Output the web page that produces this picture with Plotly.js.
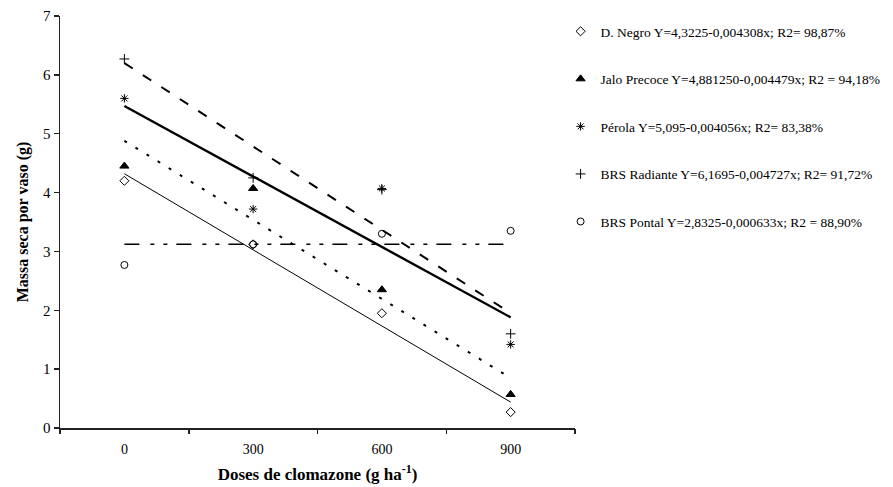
<!DOCTYPE html>
<html>
<head>
<meta charset="utf-8">
<script src="https://cdn.plot.ly/plotly-3.0.1.min.js"></script>
<style>html,body{margin:0;padding:0;background:#fff;}#chart{width:893px;height:487px;}</style>
</head>
<body>
<div id="chart"></div>
<script>
// Doses (g ha-1)
const doses = [0, 300, 600, 900];
const tickLabels = ["0", "300", "600", "900"];

// Legend names (with fitted equations)
const seriesNames = [
  "D. Negro Y=4,3225-0,004308x; R2= 98,87%",
  "Jalo Precoce Y=4,881250-0,004479x; R2 = 94,18%",
  "Pérola Y=5,095-0,004056x; R2= 83,38%",
  "BRS Radiante Y=6,1695-0,004727x; R2= 91,72%",
  "BRS Pontal Y=2,8325-0,000633x; R2 = 88,90%"
];

const dNegro      = [4.20, 3.12, 1.95, 0.27];
const jaloPrecoce = [4.45, 4.07, 2.35, 0.57];
const perola      = [5.60, 3.72, 4.07, 1.42];
const brsRadiante = [6.27, 4.25, 4.05, 1.60];
const brsPontal   = [2.77, 3.12, 3.30, 3.35];

// Fitted lines as drawn in the figure (values at dose 0 and 900)
const lineX = [0, 900];
const fitDNegro      = [4.32, 0.44];
const fitJalo        = [4.88, 0.85];
const fitPerola      = [5.47, 1.88];
const fitRadiante    = [6.20, 1.95];
const fitPontal      = [3.12, 3.12];

// Category boundary ticks
const boundaryTicks = [-150, 150, 450, 750, 1050];

const obs = [dNegro, jaloPrecoce, perola, brsRadiante, brsPontal];
const fits = [fitDNegro, fitJalo, fitPerola, fitRadiante, fitPontal];
const symbols = ["diamond-open", "triangle-up", "asterisk-open", "cross-thin-open", "circle-open"];
const lineStyles = [
  {color: "#000", width: 1, dash: "solid"},
  {color: "#000", width: 2, dash: "3px,10px"},
  {color: "#000", width: 2.4, dash: "solid"},
  {color: "#000", width: 2, dash: "10px,12px"},
  {color: "#000", width: 1.5, dash: "15px,11px,4px,9px,4px,9px"}
];

const traces = [];
for (let i = 0; i < obs.length; i++) {
  traces.push({
    x: lineX, y: fits[i], mode: "lines", type: "scatter",
    line: lineStyles[i], showlegend: false, hoverinfo: "skip"
  });
}
for (let i = 0; i < obs.length; i++) {
  traces.push({
    x: doses, y: obs[i], mode: "markers", type: "scatter",
    name: seriesNames[i], legendgroup: "g" + i,
    marker: {symbol: symbols[i], size: i === 1 ? 8 : 7, color: "#000", line: {color: "#000", width: 1}},
    cliponaxis: false
  });
}
// empty trace to anchor the boundary-tick axis
traces.push({x: [], y: [], xaxis: "x2", type: "scatter", showlegend: false});

const serif = "Liberation Serif, Times New Roman, serif";

const layout = {
  width: 893, height: 487,
  margin: {l: 60, r: 318, t: 16, b: 59, autoexpand: false},
  paper_bgcolor: "#fff", plot_bgcolor: "#fff",
  font: {family: serif, color: "#000", size: 14},
  showlegend: true,
  legend: {
    x: 0.972, xanchor: "left", y: 1.0, yanchor: "top",
    font: {family: serif, size: 13.5, color: "#000"},
    tracegroupgap: 27, itemwidth: 30, bgcolor: "rgba(0,0,0,0)", traceorder: "grouped"
  },
  xaxis: {
    range: [-150, 1050], tickvals: doses, ticktext: tickLabels, automargin: false,
    ticks: "", showgrid: false, zeroline: false, showline: true,
    linecolor: "#222", linewidth: 1.5, ticklabelstandoff: 8,
    tickfont: {family: serif, size: 14, color: "#000"},
    title: {text: "<b>Doses de clomazone (g ha<sup>-1</sup>)</b>", font: {family: serif, size: 17, color: "#000"}, standoff: 12}
  },
  xaxis2: {
    overlaying: "x", anchor: "y", range: [-150, 1050], tickvals: boundaryTicks, automargin: false,
    showticklabels: false, ticks: "outside", ticklen: 5, tickwidth: 1.5, tickcolor: "#222",
    showgrid: false, zeroline: false, showline: false
  },
  yaxis: {
    range: [0, 7], dtick: 1, tick0: 0, ticks: "outside", ticklen: 5, tickwidth: 1.5, tickcolor: "#222",
    showgrid: false, zeroline: false, showline: true, linecolor: "#222", linewidth: 1.5, automargin: false,
    tickfont: {family: serif, size: 15, color: "#000"},
    title: {text: "<b>Massa seca por vaso (g)</b>", font: {family: serif, size: 16, color: "#000"}, standoff: 10}
  }
};

Plotly.newPlot("chart", traces, layout, {staticPlot: true, displayModeBar: false});
</script>
</body>
</html>
